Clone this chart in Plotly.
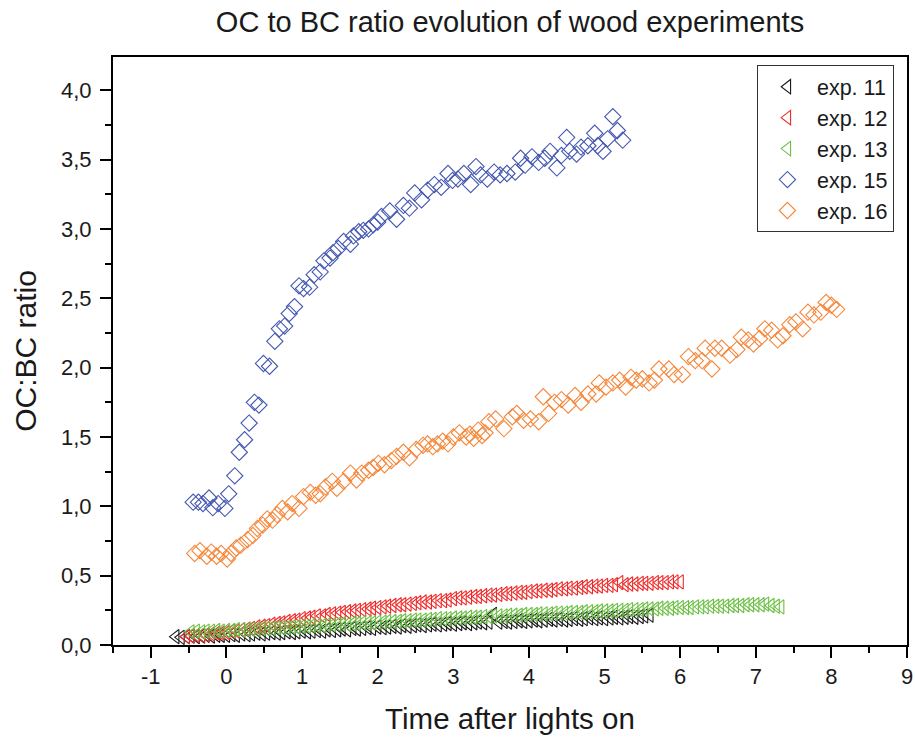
import plotly.graph_objects as go

# ---- exp. 11 (black): time after lights on [h], OC:BC ratio ----
t11 = [-0.67, -0.60, -0.53, -0.47, -0.40, -0.33, -0.27, -0.20, -0.13, -0.07,
       0.00, 0.07, 0.13, 0.20, 0.27, 0.33, 0.40, 0.47, 0.53, 0.60, 0.67, 0.73, 0.80, 0.87, 0.93,
       1.00, 1.07, 1.13, 1.20, 1.27, 1.33, 1.40, 1.47, 1.53, 1.60, 1.67, 1.73, 1.80, 1.87, 1.93,
       2.00, 2.07, 2.13, 2.20, 2.27, 2.33, 2.40, 2.47, 2.53, 2.60, 2.67, 2.73, 2.80, 2.87, 2.93,
       3.00, 3.07, 3.13, 3.20, 3.27, 3.33, 3.40, 3.47, 3.53, 3.60, 3.67, 3.73, 3.80, 3.87, 3.93,
       4.00, 4.07, 4.13, 4.20, 4.27, 4.33, 4.40, 4.47, 4.53, 4.60, 4.67, 4.73, 4.80, 4.87, 4.93,
       5.00, 5.07, 5.13, 5.20, 5.27, 5.33, 5.40, 5.47, 5.53, 5.60]
r11 = [0.060, 0.055, 0.060, 0.065, 0.060, 0.065, 0.070, 0.065, 0.070, 0.070,
       0.070, 0.075, 0.070, 0.080, 0.075, 0.080, 0.085, 0.080, 0.085, 0.090, 0.085, 0.090, 0.095, 0.090, 0.095,
       0.100, 0.095, 0.100, 0.105, 0.100, 0.110, 0.105, 0.110, 0.115, 0.110, 0.120, 0.115, 0.120, 0.125, 0.120,
       0.130, 0.125, 0.130, 0.135, 0.130, 0.140, 0.135, 0.140, 0.145, 0.140, 0.145, 0.150, 0.145, 0.150, 0.155,
       0.150, 0.155, 0.160, 0.155, 0.160, 0.165, 0.160, 0.165, 0.220, 0.165, 0.170, 0.165, 0.170, 0.175, 0.170,
       0.175, 0.180, 0.175, 0.180, 0.185, 0.180, 0.185, 0.180, 0.185, 0.190, 0.185, 0.190, 0.195, 0.190, 0.195,
       0.190, 0.195, 0.200, 0.195, 0.200, 0.205, 0.200, 0.205, 0.210, 0.215]

# ---- exp. 12 (red) ----
t12 = [-0.53, -0.47, -0.40, -0.33, -0.27, -0.20, -0.13, -0.07,
       0.00, 0.07, 0.13, 0.20, 0.27, 0.33, 0.40, 0.47, 0.53, 0.60, 0.67, 0.73, 0.80, 0.87, 0.93,
       1.00, 1.07, 1.13, 1.20, 1.27, 1.33, 1.40, 1.47, 1.53, 1.60, 1.67, 1.73, 1.80, 1.87, 1.93,
       2.00, 2.07, 2.13, 2.20, 2.27, 2.33, 2.40, 2.47, 2.53, 2.60, 2.67, 2.73, 2.80, 2.87, 2.93,
       3.00, 3.07, 3.13, 3.20, 3.27, 3.33, 3.40, 3.47, 3.53, 3.60, 3.67, 3.73, 3.80, 3.87, 3.93,
       4.00, 4.07, 4.13, 4.20, 4.27, 4.33, 4.40, 4.47, 4.53, 4.60, 4.67, 4.73, 4.80, 4.87, 4.93,
       5.00, 5.07, 5.13, 5.20, 5.27, 5.33, 5.40, 5.47, 5.53, 5.60, 5.67, 5.73, 5.80, 5.87, 5.93,
       6.00]
r12 = [0.060, 0.065, 0.070, 0.070, 0.075, 0.080, 0.085, 0.085,
       0.090, 0.100, 0.100, 0.110, 0.115, 0.120, 0.130, 0.135, 0.140, 0.150, 0.155, 0.160, 0.170, 0.175, 0.180,
       0.190, 0.195, 0.200, 0.210, 0.210, 0.220, 0.225, 0.230, 0.235, 0.240, 0.245, 0.250, 0.255, 0.260, 0.265,
       0.270, 0.275, 0.280, 0.285, 0.290, 0.290, 0.295, 0.300, 0.305, 0.310, 0.310, 0.315, 0.320, 0.320, 0.325,
       0.335, 0.340, 0.340, 0.345, 0.350, 0.350, 0.355, 0.360, 0.360, 0.365, 0.370, 0.370, 0.375, 0.380, 0.380,
       0.385, 0.390, 0.390, 0.395, 0.395, 0.400, 0.405, 0.405, 0.410, 0.410, 0.415, 0.420, 0.420, 0.425, 0.425,
       0.430, 0.430, 0.435, 0.450, 0.435, 0.440, 0.440, 0.445, 0.445, 0.445, 0.450, 0.450, 0.450, 0.455, 0.455,
       0.455]

# ---- exp. 13 (green) ----
t13 = [-0.47, -0.40, -0.33, -0.27, -0.20, -0.13, -0.07,
       0.00, 0.07, 0.13, 0.20, 0.27, 0.33, 0.40, 0.47, 0.53, 0.60, 0.67, 0.73, 0.80, 0.87, 0.93,
       1.00, 1.07, 1.13, 1.20, 1.27, 1.33, 1.40, 1.47, 1.53, 1.60, 1.67, 1.73, 1.80, 1.87, 1.93,
       2.00, 2.07, 2.13, 2.20, 2.27, 2.33, 2.40, 2.47, 2.53, 2.60, 2.67, 2.73, 2.80, 2.87, 2.93,
       3.00, 3.07, 3.13, 3.20, 3.27, 3.33, 3.40, 3.47, 3.53, 3.60, 3.67, 3.73, 3.80, 3.87, 3.93,
       4.00, 4.07, 4.13, 4.20, 4.27, 4.33, 4.40, 4.47, 4.53, 4.60, 4.67, 4.73, 4.80, 4.87, 4.93,
       5.00, 5.07, 5.13, 5.20, 5.27, 5.33, 5.40, 5.47, 5.53, 5.60, 5.67, 5.73, 5.80, 5.87, 5.93,
       6.00, 6.07, 6.13, 6.20, 6.27, 6.33, 6.40, 6.47, 6.53, 6.60, 6.67, 6.73, 6.80, 6.87, 6.93,
       7.00, 7.07, 7.13, 7.20, 7.27, 7.33]
r13 = [0.095, 0.100, 0.095, 0.100, 0.100, 0.105, 0.100,
       0.105, 0.105, 0.110, 0.110, 0.110, 0.115, 0.115, 0.120, 0.120, 0.120, 0.125, 0.125, 0.125, 0.130, 0.130,
       0.135, 0.135, 0.140, 0.140, 0.140, 0.145, 0.145, 0.150, 0.150, 0.150, 0.155, 0.155, 0.160, 0.160, 0.160,
       0.165, 0.165, 0.170, 0.170, 0.170, 0.175, 0.175, 0.180, 0.180, 0.180, 0.185, 0.185, 0.190, 0.190, 0.190,
       0.195, 0.195, 0.195, 0.200, 0.200, 0.200, 0.205, 0.205, 0.210, 0.210, 0.210, 0.215, 0.215, 0.215, 0.220,
       0.220, 0.220, 0.225, 0.225, 0.225, 0.230, 0.230, 0.230, 0.235, 0.235, 0.235, 0.240, 0.240, 0.240, 0.245,
       0.245, 0.245, 0.250, 0.250, 0.250, 0.255, 0.255, 0.255, 0.260, 0.260, 0.260, 0.265, 0.265, 0.265, 0.270,
       0.270, 0.270, 0.270, 0.275, 0.275, 0.275, 0.280, 0.280, 0.280, 0.280, 0.285, 0.285, 0.285, 0.290, 0.290,
       0.290, 0.290, 0.295, 0.285, 0.280, 0.275]

# ---- exp. 15 (blue) ----
t15 = [-0.44, -0.37, -0.31, -0.23, -0.18, -0.11, -0.02, 0.03, 0.11, 0.17, 0.24, 0.30, 0.37, 0.43,
       0.49, 0.57, 0.64, 0.70, 0.77, 0.83, 0.90, 0.96, 1.02, 1.10, 1.16, 1.24, 1.29, 1.37, 1.41,
       1.48, 1.55, 1.64, 1.68, 1.75, 1.81, 1.88, 1.94, 2.00, 2.05, 2.16, 2.25, 2.34, 2.42, 2.49,
       2.58, 2.66, 2.75, 2.84, 2.93, 2.99, 3.06, 3.14, 3.23, 3.30, 3.36, 3.45, 3.54, 3.62, 3.71,
       3.82, 3.89, 3.95, 4.04, 4.13, 4.21, 4.28, 4.37, 4.43, 4.50, 4.54, 4.63, 4.69, 4.78, 4.87,
       4.91, 4.98, 5.04, 5.11, 5.17, 5.24]
r15 = [1.03, 1.03, 1.02, 1.06, 0.99, 1.02, 0.985, 1.09, 1.22, 1.39, 1.48, 1.60, 1.75, 1.73,
       2.03, 2.01, 2.19, 2.28, 2.30, 2.39, 2.44, 2.59, 2.57, 2.58, 2.67, 2.69, 2.77, 2.79, 2.83,
       2.86, 2.91, 2.89, 2.95, 2.98, 2.99, 3.00, 3.03, 3.05, 3.09, 3.13, 3.07, 3.17, 3.15, 3.26,
       3.21, 3.28, 3.32, 3.30, 3.40, 3.35, 3.36, 3.40, 3.32, 3.45, 3.39, 3.36, 3.41, 3.39, 3.40,
       3.41, 3.51, 3.46, 3.52, 3.48, 3.51, 3.56, 3.44, 3.53, 3.66, 3.56, 3.54, 3.59, 3.60, 3.69,
       3.60, 3.56, 3.65, 3.81, 3.71, 3.64]

# ---- exp. 16 (orange) ----
t16 = [-0.42, -0.35, -0.26, -0.20, -0.13, -0.07, 0.01, 0.06, 0.13, 0.19, 0.28, 0.35, 0.41, 0.48,
       0.54, 0.61, 0.67, 0.74, 0.81, 0.87, 0.96, 1.02, 1.11, 1.18, 1.24, 1.31, 1.40, 1.46, 1.55,
       1.64, 1.72, 1.79, 1.88, 1.94, 2.01, 2.09, 2.18, 2.25, 2.34, 2.42, 2.51, 2.60, 2.66, 2.73,
       2.79, 2.86, 2.93, 3.00, 3.08, 3.17, 3.22, 3.27, 3.33, 3.38, 3.42, 3.47, 3.56, 3.67, 3.78,
       3.84, 3.93, 4.02, 4.13, 4.19, 4.26, 4.34, 4.43, 4.52, 4.61, 4.69, 4.78, 4.89, 4.93, 5.02,
       5.11, 5.20, 5.28, 5.35, 5.42, 5.50, 5.59, 5.66, 5.72, 5.85, 5.92, 6.03, 6.11, 6.20, 6.29,
       6.33, 6.42, 6.46, 6.55, 6.66, 6.75, 6.81, 6.90, 6.97, 7.05, 7.12, 7.21, 7.29, 7.36, 7.45,
       7.53, 7.62, 7.69, 7.77, 7.86, 7.93, 8.00, 8.07]
r16 = [0.66, 0.68, 0.64, 0.67, 0.64, 0.66, 0.62, 0.66, 0.70, 0.72, 0.76, 0.79, 0.84, 0.865,
       0.91, 0.90, 0.94, 0.985, 0.96, 1.02, 0.985, 1.07, 1.10, 1.08, 1.09, 1.14, 1.18, 1.13, 1.18,
       1.24, 1.19, 1.24, 1.26, 1.28, 1.31, 1.30, 1.33, 1.36, 1.39, 1.35, 1.41, 1.44, 1.45, 1.43,
       1.45, 1.47, 1.45, 1.50, 1.53, 1.50, 1.52, 1.49, 1.55, 1.51, 1.53, 1.61, 1.63, 1.56, 1.645,
       1.67, 1.62, 1.63, 1.61, 1.79, 1.67, 1.75, 1.77, 1.73, 1.80, 1.75, 1.81, 1.81, 1.89, 1.86,
       1.89, 1.91, 1.86, 1.93, 1.91, 1.92, 1.89, 1.91, 1.99, 1.99, 1.95, 1.95, 2.08, 2.05, 2.05,
       2.14, 1.99, 2.14, 2.14, 2.09, 2.13, 2.22, 2.20, 2.17, 2.21, 2.28, 2.27, 2.20, 2.23, 2.31,
       2.33, 2.28, 2.40, 2.38, 2.40, 2.47, 2.45, 2.42]

# x-axis tick labels (plain hyphen for negatives)
x_ticks = [-1, 0, 1, 2, 3, 4, 5, 6, 7, 8, 9]
x_ticktext = ["-1", "0", "1", "2", "3", "4", "5", "6", "7", "8", "9"]

series = [
    ("exp. 11", t11, r11, "triangle-left-open", "#1a1a1a", 12.5),
    ("exp. 12", t12, r12, "triangle-left-open", "#f02a2a", 12.5),
    ("exp. 13", t13, r13, "triangle-left-open", "#6cc044", 12.5),
    ("exp. 15", t15, r15, "diamond-open", "#4457b0", 12.5),
    ("exp. 16", t16, r16, "diamond-open", "#f5873a", 12.5),
]

FONT = "Liberation Sans, Arial, sans-serif"
TXT = "#1a1a1a"

fig = go.Figure()
for name, t, r, sym, col, size in series:
    fig.add_trace(go.Scatter(
        x=t, y=r, mode="markers", name=name,
        marker=dict(symbol=sym, size=size, color=col, line=dict(color=col, width=1.1)),
    ))

axis_common = dict(
    showline=True, linecolor="black", linewidth=2, mirror=True,
    ticks="outside", ticklen=11, tickwidth=2, tickcolor="black",
    showgrid=False, zeroline=False,
    tickfont=dict(family=FONT, size=22, color=TXT),
)

fig.update_layout(
    width=915, height=737,
    margin=dict(l=113, r=2, t=57, b=92),
    paper_bgcolor="white", plot_bgcolor="white",
    separators=",.",
    font=dict(family=FONT, color=TXT),
    title=dict(text="OC to BC ratio evolution of wood experiments",
               x=0.5, xref="paper", y=0.970, yref="container", yanchor="middle",
               font=dict(family=FONT, size=29, color=TXT)),
    xaxis=dict(range=[-1.5, 9], tickmode="array", tickvals=x_ticks, ticktext=x_ticktext,
               ticklabelstandoff=0, ticklabeloverflow="allow",
               minor=dict(dtick=0.5, tick0=0, ticks="outside", ticklen=6, tickwidth=2, tickcolor="black"),
               title=dict(text="Time after lights on", standoff=20,
                          font=dict(family=FONT, size=29.5, color=TXT)),
               **axis_common),
    yaxis=dict(range=[0, 4.24], tick0=0, dtick=0.5, tickformat=".1f", ticklabelstandoff=4,
               minor=dict(dtick=0.25, tick0=0, ticks="outside", ticklen=6, tickwidth=2, tickcolor="black"),
               title=dict(text="OC:BC ratio", standoff=16,
                          font=dict(family=FONT, size=30, color=TXT)),
               **axis_common),
    legend=dict(x=0.811, y=0.986, xanchor="left", yanchor="top",
                bgcolor="white", bordercolor="#333333", borderwidth=1,
                font=dict(family=FONT, size=21.5, color=TXT),
                itemwidth=49, entrywidth=95, tracegroupgap=0),
    showlegend=True,
)

fig.write_html("out.html")
